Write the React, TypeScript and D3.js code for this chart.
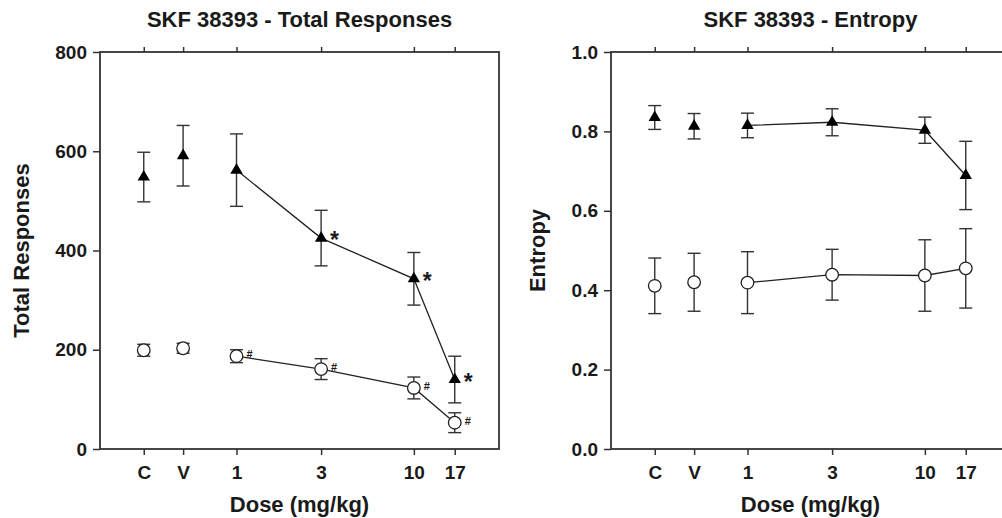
import { useRef, useEffect } from 'react'
import * as d3 from 'd3'

const doseLabels = ['C', 'V', '1', '3', '10', '17']
// C and V sit left of 1 on the log dose axis
const doseValues = [0.3, 0.5, 1, 3, 10, 17]

const respTriMean = [548, 591, 562, 425, 343, 140]
const respTriErr = [50, 61, 73, 56, 53, 47]
const respCircMean = [199, 203, 187, 161, 123, 53]
const respCircErr = [12, 10, 13, 21, 22, 20]
const respTriMark = ['', '', '', '*', '*', '*']
const respCircMark = ['', '', '#', '#', '#', '#']

const entTriMean = [0.835, 0.813, 0.815, 0.823, 0.803, 0.689]
const entTriErr = [0.03, 0.032, 0.031, 0.034, 0.033, 0.086]
const entCircMean = [0.411, 0.42, 0.419, 0.439, 0.437, 0.455]
const entCircErr = [0.07, 0.073, 0.078, 0.064, 0.09, 0.1]

const respTicks = [0, 200, 400, 600, 800]
const entTicks = [0, 0.2, 0.4, 0.6, 0.8, 1.0]

const FONT = '"Liberation Sans", Arial, sans-serif'
const INK = '#1a1a1a'

const App = () => {
  const svgRef = useRef(null)

  function panel(svg, opts) {
    const { left, title, yLabel, yLabelX, yMax, ticks, fmt, tri, triErr, circ, circErr, triMark, circMark } = opts
    const top = 52
    const bottom = 449
    const width = 399

    const x = d3.scaleLog().domain([0.17, 30.2]).range([left, left + width])
    const y = d3.scaleLinear().domain([0, yMax]).range([bottom, top])

    const g = svg.append('g')

    g.append('text')
      .text(title)
      .attr('x', left + width / 2)
      .attr('y', 27)
      .attr('text-anchor', 'middle')
      .attr('font-size', 22)

    // frame
    g.append('rect')
      .attr('x', left)
      .attr('y', top)
      .attr('width', width)
      .attr('height', bottom - top)
      .attr('fill', 'none')
      .attr('stroke', '#333')
      .attr('stroke-width', 1.8)

    const yAxis = d3.axisLeft(y).tickValues(ticks).tickSize(7).tickPadding(6).tickFormat(fmt)
    const yg = g.append('g').attr('transform', `translate(${left},0)`).call(yAxis)
    yg.select('.domain').remove()

    const xAxis = d3.axisBottom(x).tickValues(doseValues).tickSize(6).tickPadding(11)
      .tickFormat((d, i) => doseLabels[i])
    const xg = g.append('g').attr('transform', `translate(0,${bottom})`).call(xAxis)
    xg.select('.domain').remove()

    const xTop = d3.axisTop(x).tickValues(doseValues).tickSize(5).tickFormat(() => '')
    const xtg = g.append('g').attr('transform', `translate(0,${top})`).call(xTop)
    xtg.select('.domain').remove()

    g.selectAll('.tick line').attr('stroke', '#333').attr('stroke-width', 1.5)
    g.selectAll('.tick text')
      .attr('font-size', 19)
      .attr('font-family', FONT)
      .attr('font-weight', 'bold')
      .attr('fill', INK)

    g.append('text')
      .text('Dose (mg/kg)')
      .attr('x', left + width / 2)
      .attr('y', 512)
      .attr('text-anchor', 'middle')
      .attr('font-size', 22)

    g.append('text')
      .text(yLabel)
      .attr('transform', `translate(${yLabelX},${(top + bottom) / 2}) rotate(-90)`)
      .attr('text-anchor', 'middle')
      .attr('font-size', 22)

    const rows = doseValues.map((d, i) => ({ d, i }))

    const drawErr = (mean, err) => {
      rows.forEach(({ d, i }) => {
        const cx = x(d)
        const y0 = y(mean[i] - err[i])
        const y1 = y(mean[i] + err[i])
        g.append('line').attr('x1', cx).attr('x2', cx).attr('y1', y0).attr('y2', y1)
          .attr('stroke', '#333').attr('stroke-width', 1.4)
        ;[y0, y1].forEach((yy) => {
          g.append('line').attr('x1', cx - 6.5).attr('x2', cx + 6.5).attr('y1', yy).attr('y2', yy)
            .attr('stroke', '#333').attr('stroke-width', 1.4)
        })
      })
    }
    drawErr(tri, triErr)
    drawErr(circ, circErr)

    const line = d3.line()
      .x((r) => x(r.d))
      .y((r) => r.v)
    const doseRows = rows.filter((r) => r.d >= 1)
    g.append('path')
      .attr('d', line(doseRows.map((r) => ({ d: r.d, v: y(tri[r.i]) }))))
      .attr('fill', 'none').attr('stroke', '#222').attr('stroke-width', 1.3)
    g.append('path')
      .attr('d', line(doseRows.map((r) => ({ d: r.d, v: y(circ[r.i]) }))))
      .attr('fill', 'none').attr('stroke', '#222').attr('stroke-width', 1.3)

    const triSym = d3.symbol().type(d3.symbolTriangle).size(66)
    rows.forEach(({ d, i }) => {
      g.append('path')
        .attr('d', triSym())
        .attr('transform', `translate(${x(d)},${y(tri[i])})`)
        .attr('fill', '#000')
      g.append('circle')
        .attr('cx', x(d))
        .attr('cy', y(circ[i]))
        .attr('r', 6.3)
        .attr('fill', '#fff')
        .attr('stroke', '#222')
        .attr('stroke-width', 1.3)
      if (triMark && triMark[i]) {
        g.append('text').text(triMark[i])
          .attr('x', x(d) + 9).attr('y', y(tri[i]) + 10)
          .attr('font-size', 23)
      }
      if (circMark && circMark[i]) {
        g.append('text').text(circMark[i])
          .attr('x', x(d) + 10).attr('y', y(circ[i]) + 2)
          .attr('font-size', 11)
      }
    })
  }

  useEffect(() => {
    const svg = d3.select(svgRef.current)
    svg.selectAll('*').remove()
    svg.attr('font-family', FONT).attr('font-weight', 'bold').attr('fill', INK)

    panel(svg, {
      left: 100,
      title: 'SKF 38393 - Total Responses',
      yLabel: 'Total Responses',
      yLabelX: 29,
      yMax: 800,
      ticks: respTicks,
      fmt: d3.format('d'),
      tri: respTriMean,
      triErr: respTriErr,
      circ: respCircMean,
      circErr: respCircErr,
      triMark: respTriMark,
      circMark: respCircMark,
    })

    panel(svg, {
      left: 611,
      title: 'SKF 38393 - Entropy',
      yLabel: 'Entropy',
      yLabelX: 545,
      yMax: 1,
      ticks: entTicks,
      fmt: d3.format('.1f'),
      tri: entTriMean,
      triErr: entTriErr,
      circ: entCircMean,
      circErr: entCircErr,
    })
  }, [])

  return (
    <div style={{ position: 'absolute', left: 0, top: 0 }}>
      <svg width="1002" height="518" ref={svgRef} style={{ display: 'block', background: '#fff' }}></svg>
    </div>
  )
}

export default App
